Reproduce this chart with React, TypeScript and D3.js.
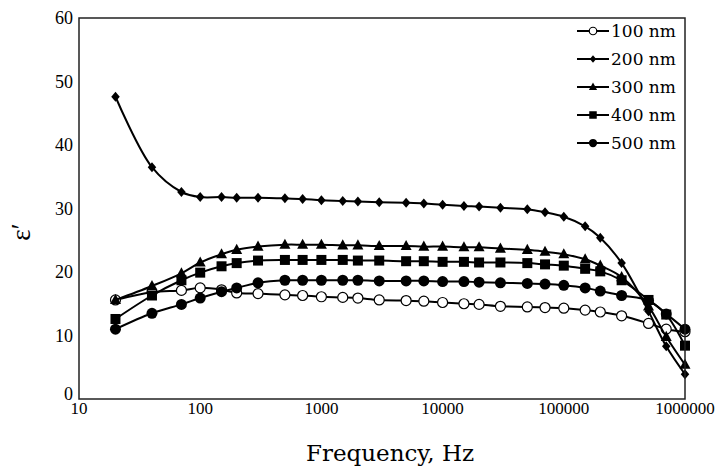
import React from "react";
import * as d3 from "d3";

const freqs = [20, 40, 70, 100, 150, 200, 300, 500, 700, 1000, 1500, 2000, 3000, 5000, 7000, 10000, 15000, 20000, 30000, 50000, 70000, 100000, 150000, 200000, 300000, 500000, 700000, 1000000];

const s100 = [15.6, 16.8, 17.1, 17.5, 17.2, 16.7, 16.6, 16.4, 16.3, 16.1, 16.0, 15.9, 15.6, 15.5, 15.4, 15.2, 15.0, 14.9, 14.6, 14.5, 14.4, 14.3, 14.0, 13.7, 13.1, 11.9, 11.0, 10.6];
const s200 = [47.6, 36.5, 32.6, 31.8, 31.8, 31.7, 31.7, 31.6, 31.5, 31.3, 31.2, 31.1, 31.0, 30.9, 30.8, 30.6, 30.4, 30.3, 30.1, 29.9, 29.4, 28.7, 27.2, 25.4, 21.4, 13.8, 8.3, 3.9];
const s300 = [15.6, 17.8, 19.8, 21.5, 22.8, 23.5, 24.0, 24.3, 24.3, 24.3, 24.2, 24.2, 24.1, 24.1, 24.0, 24.0, 23.9, 23.9, 23.7, 23.5, 23.2, 22.8, 22.0, 21.0, 19.2, 14.6, 9.8, 5.4];
const s400 = [12.6, 16.3, 18.7, 19.9, 20.9, 21.4, 21.8, 21.9, 21.9, 21.9, 21.9, 21.8, 21.8, 21.7, 21.7, 21.6, 21.6, 21.5, 21.5, 21.4, 21.2, 21.0, 20.5, 20.1, 18.7, 15.6, 13.3, 8.4];
const s500 = [11.0, 13.5, 14.9, 15.9, 16.9, 17.5, 18.3, 18.7, 18.7, 18.7, 18.7, 18.7, 18.6, 18.6, 18.6, 18.5, 18.5, 18.4, 18.3, 18.2, 18.1, 17.9, 17.5, 17.0, 16.3, 15.5, 13.4, 11.0];

const seriesNames = ["100 nm", "200 nm", "300 nm", "400 nm", "500 nm"];
const seriesValues = [s100, s200, s300, s400, s500];
const seriesMarkers = ["openCircle", "diamond", "triangle", "square", "circle"];

const xTicks = [10, 100, 1000, 10000, 100000, 1000000];
const yTicks = [0, 10, 20, 30, 40, 50, 60];

const W = 717;
const H = 470;
const M = { left: 79, right: 685, top: 18, bottom: 399 };

function Marker({ type, x, y, size = 1 }: { type: string; x: number; y: number; size?: number }) {
  const s = size;
  if (type === "openCircle") {
    return <circle cx={x} cy={y} r={5 * s} fill="white" stroke="black" strokeWidth={1.2} />;
  }
  if (type === "circle") {
    return <circle cx={x} cy={y} r={5.5 * s} fill="black" />;
  }
  if (type === "square") {
    const a = 5 * s;
    return <rect x={x - a} y={y - a} width={2 * a} height={2 * a} fill="black" />;
  }
  if (type === "triangle") {
    const a = 5.5 * s;
    return <path d={`M${x},${y - a * 1.1} L${x + a},${y + a * 0.75} L${x - a},${y + a * 0.75} Z`} fill="black" />;
  }
  const a = 5 * s;
  return <path d={`M${x},${y - a} L${x + a * 0.85},${y} L${x},${y + a} L${x - a * 0.85},${y} Z`} fill="black" />;
}

export default function App() {
  const x = d3.scaleLog().domain([10, 1000000]).range([M.left, M.right]);
  const y = d3.scaleLinear().domain([0, 60]).range([M.bottom, M.top]);
  const line = d3
    .line<[number, number]>()
    .x((d) => x(d[0]))
    .y((d) => y(d[1]))
    .curve(d3.curveCatmullRom.alpha(0.5));

  const tickFont = "'Liberation Serif', 'Times New Roman', serif";
  const labelFont = "'DejaVu Serif', serif";

  return (
    <svg width={W} height={H} style={{ position: "absolute", left: 0, top: 0, background: "white" }}>
      <rect x={0} y={0} width={W} height={H} fill="white" />
      {seriesValues.map((vals, i) => {
        const pts = freqs.map((f, j) => [f, vals[j]] as [number, number]);
        return (
          <g key={seriesNames[i]}>
            <path d={line(pts) || ""} fill="none" stroke="black" strokeWidth={2} />
            {pts.map((p, j) => (
              <Marker key={j} type={seriesMarkers[i]} x={x(p[0])} y={y(p[1])} />
            ))}
          </g>
        );
      })}
      <rect x={M.left} y={M.top} width={M.right - M.left} height={M.bottom - M.top} fill="none" stroke="#222" strokeWidth={1.5} />
      {yTicks.map((t) => (
        <text key={t} x={M.left - 6} y={t === 0 ? y(t) - 5 : y(t)} textAnchor="end" dominantBaseline="central" fontFamily={tickFont} fontSize={18} fill="#000">
          {t}
        </text>
      ))}
      {xTicks.map((t) => (
        <text key={t} x={x(t)} y={M.bottom + 15} textAnchor="middle" fontFamily={tickFont} fontSize={17} fill="#000">
          {t}
        </text>
      ))}
      <text x={390} y={461} textAnchor="middle" fontFamily={labelFont} fontSize={23} fill="#000">
        Frequency, Hz
      </text>
      <text transform={`translate(30,232) rotate(-90)`} textAnchor="middle" fontFamily={tickFont} fontSize={27} fill="#000">
        ε′
      </text>
      {seriesNames.map((n, i) => {
        const ly = 31 + i * 28;
        return (
          <g key={n}>
            <line x1={577} x2={609} y1={ly} y2={ly} stroke="black" strokeWidth={2} />
            <Marker type={seriesMarkers[i]} x={593} y={ly} size={0.75} />
            <text x={611} y={ly} dominantBaseline="central" fontFamily={labelFont} fontSize={17} fill="#000">
              {n}
            </text>
          </g>
        );
      })}
    </svg>
  );
}
